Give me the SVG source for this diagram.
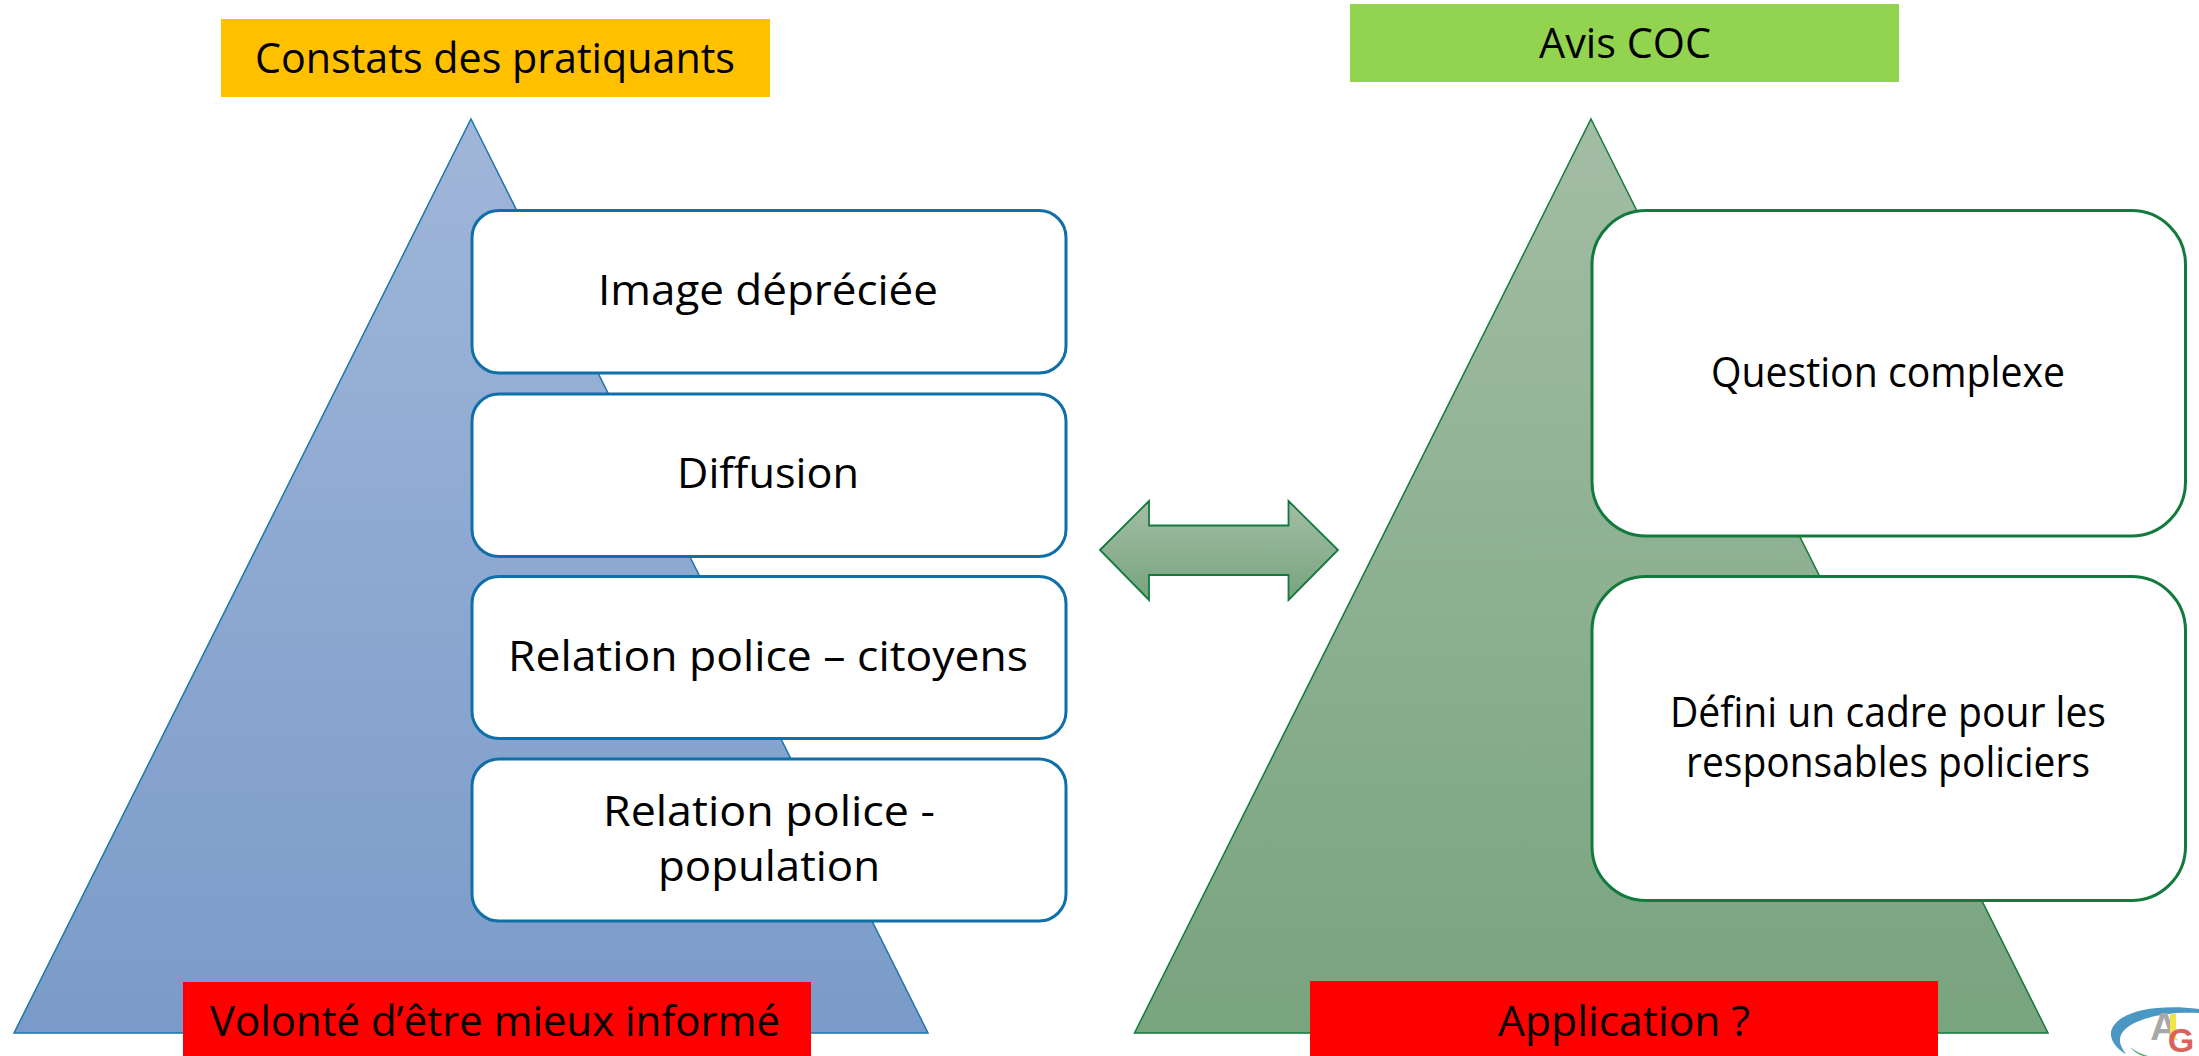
<svg xmlns="http://www.w3.org/2000/svg" width="2199" height="1056" viewBox="0 0 2199 1056">
<style>
text{font-family:"Open Sans","Noto Sans","Liberation Sans",sans-serif;font-size:42px;fill:#000;text-anchor:middle}
.b{fill:#fff;stroke:#0f6fa8;stroke-width:3}
.g{fill:#fff;stroke:#127a3c;stroke-width:3}
.l{font-family:"Liberation Sans",sans-serif;font-weight:bold}
</style>
<defs>
<linearGradient id="gb" x1="0" y1="0" x2="0" y2="1"><stop offset="0" stop-color="#a0b6d9"/><stop offset="1" stop-color="#7a9bc9"/></linearGradient>
<linearGradient id="gg" x1="0" y1="0" x2="0" y2="1"><stop offset="0" stop-color="#a3bda5"/><stop offset="1" stop-color="#78a47e"/></linearGradient>
</defs>
<rect width="2199" height="1056" fill="#fff"/>
<g id="pyramid-left"><polygon points="471,119 928,1033 14,1033" fill="url(#gb)" stroke="#1a75b0" stroke-width="1.5"/></g>
<g id="pyramid-right"><polygon points="1591,119 2048,1033 1134.500,1033" fill="url(#gg)" stroke="#127a3c" stroke-width="1.5"/></g>
<g id="header-left"><rect x="221" y="19" width="549" height="78" fill="#ffc000"/><text x="495" y="73" textLength="480" lengthAdjust="spacingAndGlyphs">Constats des pratiquants</text></g>
<g id="header-right"><rect x="1350" y="4" width="549" height="78" fill="#92d450"/><text x="1625" y="58" textLength="172" lengthAdjust="spacingAndGlyphs">Avis COC</text></g>
<g id="box1"><rect class="b" x="472" y="210.500" width="594" height="162.500" rx="27"/><text x="768" y="305" textLength="340" lengthAdjust="spacingAndGlyphs">Image dépréciée</text></g>
<g id="box2"><rect class="b" x="472" y="394" width="594" height="162.500" rx="27"/><text x="768" y="488" textLength="182" lengthAdjust="spacingAndGlyphs">Diffusion</text></g>
<g id="box3"><rect class="b" x="472" y="576.500" width="594" height="162" rx="27"/><text x="768" y="671" textLength="520" lengthAdjust="spacingAndGlyphs">Relation police – citoyens</text></g>
<g id="box4"><rect class="b" x="472" y="759" width="594" height="162" rx="27"/><text x="769" y="826" textLength="332" lengthAdjust="spacingAndGlyphs">Relation police -</text><text x="769" y="881" textLength="222" lengthAdjust="spacingAndGlyphs">population</text></g>
<g id="box5"><rect class="g" x="1592" y="210.500" width="593.500" height="325.500" rx="54"/><text x="1888" y="387" textLength="354" lengthAdjust="spacingAndGlyphs">Question complexe</text></g>
<g id="box6"><rect class="g" x="1592" y="576.500" width="593.500" height="324" rx="54"/><text x="1888" y="727" textLength="436" lengthAdjust="spacingAndGlyphs">Défini un cadre pour les</text><text x="1888" y="777" textLength="404" lengthAdjust="spacingAndGlyphs">responsables policiers</text></g>
<g id="connectors"><polygon points="1100,550 1149,501 1149,525.500 1288.500,525.500 1288.500,501 1338,550 1288.500,600 1288.500,575 1149,575 1149,600" fill="url(#gg)" stroke="#127a3c" stroke-width="1.800"/></g>
<g id="footer-left"><rect x="183" y="982" width="628" height="74" fill="#f00"/><text x="495" y="1036" textLength="570" lengthAdjust="spacingAndGlyphs">Volonté d’être mieux informé</text></g>
<g id="footer-right"><rect x="1310" y="981" width="628" height="75" fill="#f00"/><text x="1624" y="1036" textLength="252" lengthAdjust="spacingAndGlyphs">Application ?</text></g>
<g id="logo">
<path d="M2199,1009 C2150,1003 2114,1014 2111,1032 C2110,1041 2117,1049 2126,1054 C2120,1046 2118,1040 2122,1033 C2129,1021 2160,1011 2199,1013 Z" fill="#4a97c4"/>
<path d="M2130,1047 C2136,1052 2142,1054 2148,1056 L2143,1056 C2137,1054 2133,1051 2130,1047 Z" fill="#4fae6a"/>
<text class="l" x="2164" y="1040" style="font-size:38px;fill:#a8a8a8">A</text>
<rect x="2170" y="1014" width="6" height="26" fill="#f1e54a"/>
<text class="l" x="2181" y="1052" style="font-size:34px;fill:#d9625c">G</text>
</g>
</svg>
